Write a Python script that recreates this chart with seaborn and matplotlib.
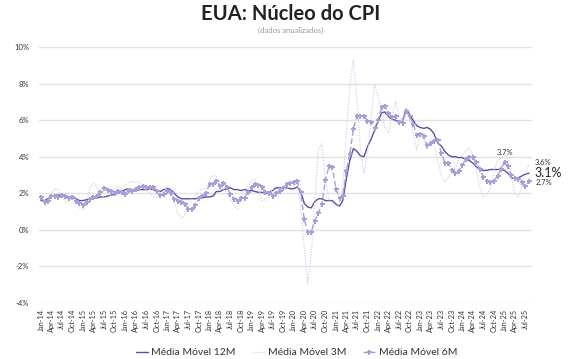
import pandas as pd
import matplotlib
matplotlib.use("Agg")
import matplotlib.pyplot as plt
import seaborn as sns

# meses: jan/2014 a ago/2025
meses = pd.date_range("2014-01-01", "2025-08-01", freq="MS")

mm12 = [1.6, 1.6, 1.7, 1.8, 1.9, 1.9, 1.9, 1.8, 1.75, 1.75, 1.7, 1.6,
        1.6, 1.65, 1.7, 1.75, 1.75, 1.8, 1.8, 1.85, 1.9, 1.95, 2.0, 2.1,
        2.2, 2.25, 2.2, 2.15, 2.2, 2.2, 2.2, 2.25, 2.2, 2.1, 2.1, 2.2,
        2.25, 2.2, 2.0, 1.8, 1.7, 1.7, 1.7, 1.7, 1.7, 1.75, 1.75, 1.8,
        1.8, 1.85, 2.1, 2.1, 2.2, 2.25, 2.3, 2.2, 2.2, 2.15, 2.2, 2.15,
        2.15, 2.1, 2.05, 2.05, 2.0, 2.05, 2.15, 2.3, 2.3, 2.3, 2.3, 2.25,
        2.25, 2.35, 2.1, 1.45, 1.25, 1.2, 1.55, 1.7, 1.7, 1.6, 1.6, 1.6,
        1.4, 1.3, 1.6, 2.8, 3.8, 4.45, 4.3, 4.05, 4.0, 4.55, 4.95, 5.45,
        5.95, 6.4, 6.45, 6.2, 6.05, 6.0, 5.9, 5.95, 6.6, 6.3, 6.0, 5.7,
        5.6, 5.55, 5.6, 5.5, 5.25, 4.75, 4.6, 4.3, 4.1, 4.0, 4.0, 3.95,
        3.95, 3.85, 3.8, 3.65, 3.45, 3.3, 3.25, 3.25, 3.3, 3.3, 3.3, 3.3,
        3.25, 3.1, 2.85, 2.8, 2.85, 2.95, 3.05, 3.1]

mm3 = [1.7, 1.45, 1.6, 2.0, 2.25, 2.2, 1.9, 1.55, 1.6, 1.9, 1.7, 1.2,
       1.1, 1.6, 2.3, 2.55, 2.3, 1.9, 1.8, 1.75, 1.9, 2.2, 2.4, 2.3,
       2.4, 2.6, 2.65, 2.6, 2.65, 2.3, 2.2, 2.0, 1.85, 1.75, 1.8, 2.1,
       2.35, 2.3, 1.5, 0.9, 0.65, 0.8, 1.2, 1.65, 1.9, 2.2, 2.2, 2.3,
       2.7, 3.0, 2.9, 2.5, 2.25, 2.0, 1.7, 1.3, 1.15, 1.7, 2.2, 2.4,
       2.7, 2.75, 2.3, 1.6, 1.65, 1.9, 2.2, 2.4, 2.35, 2.3, 2.3, 2.35,
       2.4, 2.6, 1.3, -1.0, -2.9, -1.3, 1.5, 4.4, 4.7, 2.8, 1.6, 1.4,
       1.3, 1.4, 2.3, 5.3, 7.8, 9.3, 7.2, 4.4, 3.1, 4.2, 6.0, 8.0,
       7.3, 6.5, 5.6, 5.3, 6.2, 7.05, 6.3, 5.9, 6.5, 6.2, 5.3, 4.4,
       5.1, 5.0, 4.4, 5.0, 4.6, 3.8, 3.0, 2.6, 2.9, 3.2, 3.4, 3.8,
       4.1, 4.3, 4.5, 4.1, 3.3, 2.3, 1.8, 1.9, 2.3, 3.2, 3.8, 3.9,
       4.15, 3.8, 2.9, 2.0, 1.8, 2.4, 3.1, 3.6]

mm6 = [1.77, 1.55, 1.6, 1.83, 1.87, 1.77, 1.88, 1.83, 1.74, 1.77, 1.6, 1.46,
       1.37, 1.55, 1.68, 1.77, 1.87, 2.07, 2.27, 2.2, 2.15, 2.0, 2.1, 2.05,
       1.95, 2.2, 2.15, 2.24, 2.33, 2.4, 2.35, 2.33, 2.35, 2.1, 1.9, 1.95,
       2.1, 2.0, 1.68, 1.6, 1.5, 1.4, 1.16, 1.16, 1.36, 1.73, 1.85, 2.0,
       2.49, 2.49, 2.69, 2.4, 2.58, 2.36, 1.95, 1.7, 1.58, 1.73, 1.76, 2.09,
       2.33, 2.5, 2.45, 2.36, 2.05, 2.04, 1.87, 2.0, 2.15, 2.3, 2.5, 2.55,
       2.64, 2.69, 2.05, 0.58, -0.1, -0.1, 0.5, 0.9, 1.4, 2.7, 3.47, 3.42,
       2.23, 1.72, 1.86, 3.24, 4.15, 5.52, 6.2, 6.2, 6.2, 5.98, 5.89, 5.56,
       6.0, 6.7, 6.75, 6.4, 6.16, 6.25, 5.89, 5.85, 6.52, 6.2, 5.8, 5.18,
       5.25, 5.15, 4.63, 4.77, 4.88, 4.93, 4.23, 3.68, 3.65, 3.27, 3.1, 3.22,
       3.54, 3.87, 4.0, 4.0, 3.69, 3.32, 2.9, 2.68, 2.62, 2.68, 2.95, 3.32,
       3.72, 3.5, 2.99, 2.86, 2.77, 2.62, 2.4, 2.68]

df = pd.DataFrame({"mes": meses, "mm12": mm12, "mm3": mm3, "mm6": mm6})

cor12 = "#5b4fa2"
cor6 = "#a89fd9"
cor3 = "#d4cff0"

sns.set_theme(style="white")
plt.rcParams["font.family"] = ["Lato", "DejaVu Sans"]

fig = plt.figure(figsize=(5.76, 3.59), dpi=100)
ax = fig.add_axes([39 / 576, 1 - 303 / 359, 493 / 576, 256 / 359])

sns.lineplot(data=df, x="mes", y="mm12", ax=ax, color=cor12, lw=1.0,
             label="Média Móvel 12M")
sns.lineplot(data=df, x="mes", y="mm3", ax=ax, color=cor3, lw=0.9,
             linestyle=(0, (1, 1.2)), label="Média Móvel 3M")
sns.lineplot(data=df, x="mes", y="mm6", ax=ax, color=cor6, lw=1.0,
             linestyle=(0, (4, 2)), marker="P", markersize=3.6,
             markeredgewidth=0, label="Média Móvel 6M")

ax.set_ylim(-4, 10)
ax.set_yticks(range(-4, 11, 2))
ax.set_yticklabels([f"{v}%" for v in range(-4, 11, 2)])
ax.set_xlim(meses[0] - pd.Timedelta(days=17), meses[-1] + pd.Timedelta(days=26))
ax.set_xticks(meses[::3])
ax.set_xticklabels([m.strftime("%b-%y") for m in meses[::3]], rotation=90)
ax.tick_params(axis="y", length=0, pad=7, labelsize=5.5, labelcolor="#333333")
ax.tick_params(axis="x", length=0, pad=4, labelsize=5.3, labelcolor="#333333")
ax.yaxis.grid(True, color="#e2e2e2", lw=1.0)
ax.xaxis.grid(False)
ax.set_xlabel("")
ax.set_ylabel("")
for s in ax.spines.values():
    s.set_visible(False)

# rótulos finais
ax.annotate(f"{mm12[-1]:.1f}%", (meses[-1], mm12[-1]), xytext=(4, 0),
            textcoords="offset points", va="center", fontsize=9, color="#222222")
ax.annotate(f"{mm3[-1]:.1f}%", (meses[-1], mm3[-1]), xytext=(4, 1),
            textcoords="offset points", va="center", fontsize=5.5, color="#333333")
ax.annotate(f"{mm6[-1]:.1f}%", (meses[-1], mm6[-1]), xytext=(5, -1),
            textcoords="offset points", va="center", fontsize=5.5, color="#333333")
i_pico = 132
ax.annotate(f"{mm6[i_pico]:.1f}%", (meses[i_pico], mm6[i_pico]), xytext=(0, 4),
            textcoords="offset points", ha="center", va="bottom", fontsize=5.5,
            color="#333333")

ax.get_legend().remove()
h, l = ax.get_legend_handles_labels()
fig.legend(h, l, loc="center", bbox_to_anchor=(0.515, 0.018), ncol=3,
           frameon=False, fontsize=7.5, handlelength=1.15, handletextpad=0.35,
           columnspacing=1.6, labelcolor="#333333")

fig.text(0.505, 0.96, "EUA: Núcleo do CPI", ha="center", va="center",
         fontsize=14.5, fontweight="bold", color="#222222")
fig.text(0.505, 0.915, "(dados anualizados)", ha="center", va="center",
         fontsize=5.5, color="#999999")

fig.savefig("out.png", dpi=100)
